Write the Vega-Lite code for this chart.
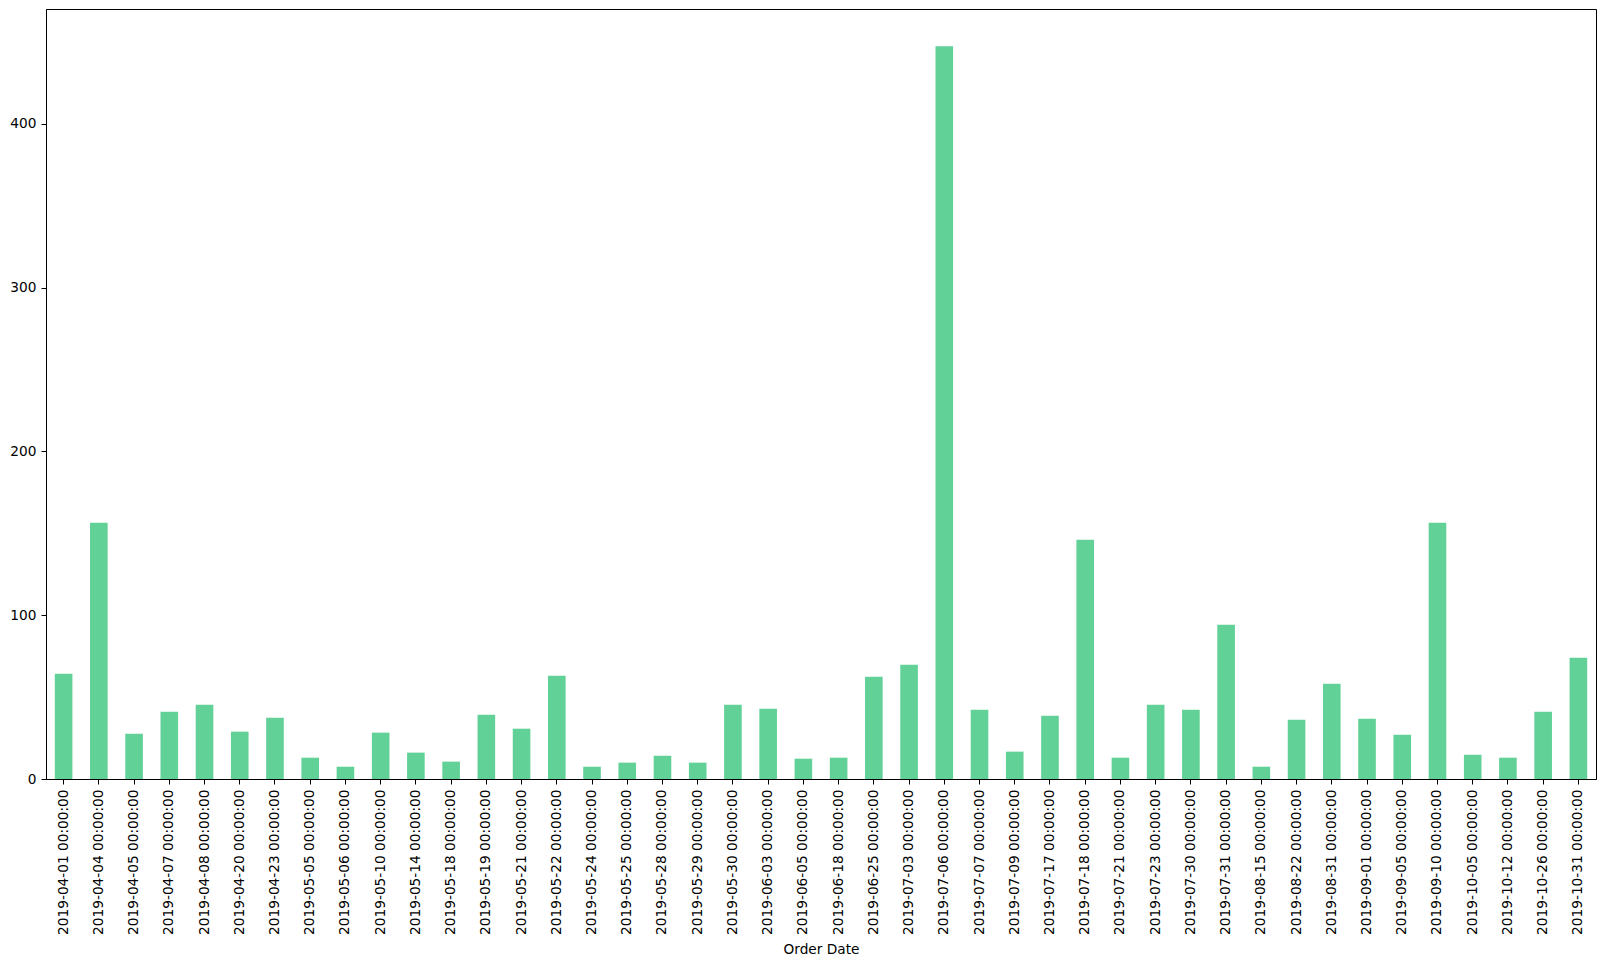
{
  "$schema": "https://vega.github.io/schema/vega-lite/v6.json",
  "autosize": {"type": "none"},
  "padding": {"left": 46, "top": 9, "right": 10, "bottom": 187},
  "width": 1550,
  "height": 770,
  "background": "white",
  "config": {
    "font": "DejaVu Sans",
    "view": {"stroke": "black", "strokeWidth": 1},
    "axis": {
      "grid": false,
      "domainColor": "black",
      "tickColor": "black",
      "labelColor": "black",
      "titleColor": "black",
      "labelFont": "DejaVu Sans",
      "titleFont": "DejaVu Sans",
      "labelFontSize": 13.7,
      "titleFontSize": 13.7,
      "titleFontWeight": "normal",
      "tickSize": 5,
      "labelPadding": 5
    }
  },
  "data": {
    "values": [
      {"date": "2019-04-01 00:00:00", "value": 64.2},
      {"date": "2019-04-04 00:00:00", "value": 156.4},
      {"date": "2019-04-05 00:00:00", "value": 27.6},
      {"date": "2019-04-07 00:00:00", "value": 41.1},
      {"date": "2019-04-08 00:00:00", "value": 45.3},
      {"date": "2019-04-20 00:00:00", "value": 28.9},
      {"date": "2019-04-23 00:00:00", "value": 37.4},
      {"date": "2019-05-05 00:00:00", "value": 13.0},
      {"date": "2019-05-06 00:00:00", "value": 7.5},
      {"date": "2019-05-10 00:00:00", "value": 28.3},
      {"date": "2019-05-14 00:00:00", "value": 16.1},
      {"date": "2019-05-18 00:00:00", "value": 10.6},
      {"date": "2019-05-19 00:00:00", "value": 39.2},
      {"date": "2019-05-21 00:00:00", "value": 30.7},
      {"date": "2019-05-22 00:00:00", "value": 63.0},
      {"date": "2019-05-24 00:00:00", "value": 7.5},
      {"date": "2019-05-25 00:00:00", "value": 10.0},
      {"date": "2019-05-28 00:00:00", "value": 14.2},
      {"date": "2019-05-29 00:00:00", "value": 10.0},
      {"date": "2019-05-30 00:00:00", "value": 45.3},
      {"date": "2019-06-03 00:00:00", "value": 42.9},
      {"date": "2019-06-05 00:00:00", "value": 12.4},
      {"date": "2019-06-18 00:00:00", "value": 13.0},
      {"date": "2019-06-25 00:00:00", "value": 62.4},
      {"date": "2019-07-03 00:00:00", "value": 69.7},
      {"date": "2019-07-06 00:00:00", "value": 447.3},
      {"date": "2019-07-07 00:00:00", "value": 42.3},
      {"date": "2019-07-09 00:00:00", "value": 16.7},
      {"date": "2019-07-17 00:00:00", "value": 38.6},
      {"date": "2019-07-18 00:00:00", "value": 146.0},
      {"date": "2019-07-21 00:00:00", "value": 13.0},
      {"date": "2019-07-23 00:00:00", "value": 45.3},
      {"date": "2019-07-30 00:00:00", "value": 42.3},
      {"date": "2019-07-31 00:00:00", "value": 94.1},
      {"date": "2019-08-15 00:00:00", "value": 7.5},
      {"date": "2019-08-22 00:00:00", "value": 36.2},
      {"date": "2019-08-31 00:00:00", "value": 58.1},
      {"date": "2019-09-01 00:00:00", "value": 36.8},
      {"date": "2019-09-05 00:00:00", "value": 27.0},
      {"date": "2019-09-10 00:00:00", "value": 156.4},
      {"date": "2019-10-05 00:00:00", "value": 14.8},
      {"date": "2019-10-12 00:00:00", "value": 13.0},
      {"date": "2019-10-26 00:00:00", "value": 41.1},
      {"date": "2019-10-31 00:00:00", "value": 74.0}
    ]
  },
  "mark": {"type": "bar", "color": "#62d197"},
  "encoding": {
    "x": {
      "field": "date",
      "type": "nominal",
      "sort": null,
      "title": "Order Date",
      "scale": {"paddingInner": 0.5, "paddingOuter": 0.25},
      "axis": {"labelAngle": -90, "titlePadding": 8}
    },
    "y": {
      "field": "value",
      "type": "quantitative",
      "title": null,
      "scale": {"domain": [0, 470], "nice": false},
      "axis": {"values": [0, 100, 200, 300, 400]}
    }
  }
}
